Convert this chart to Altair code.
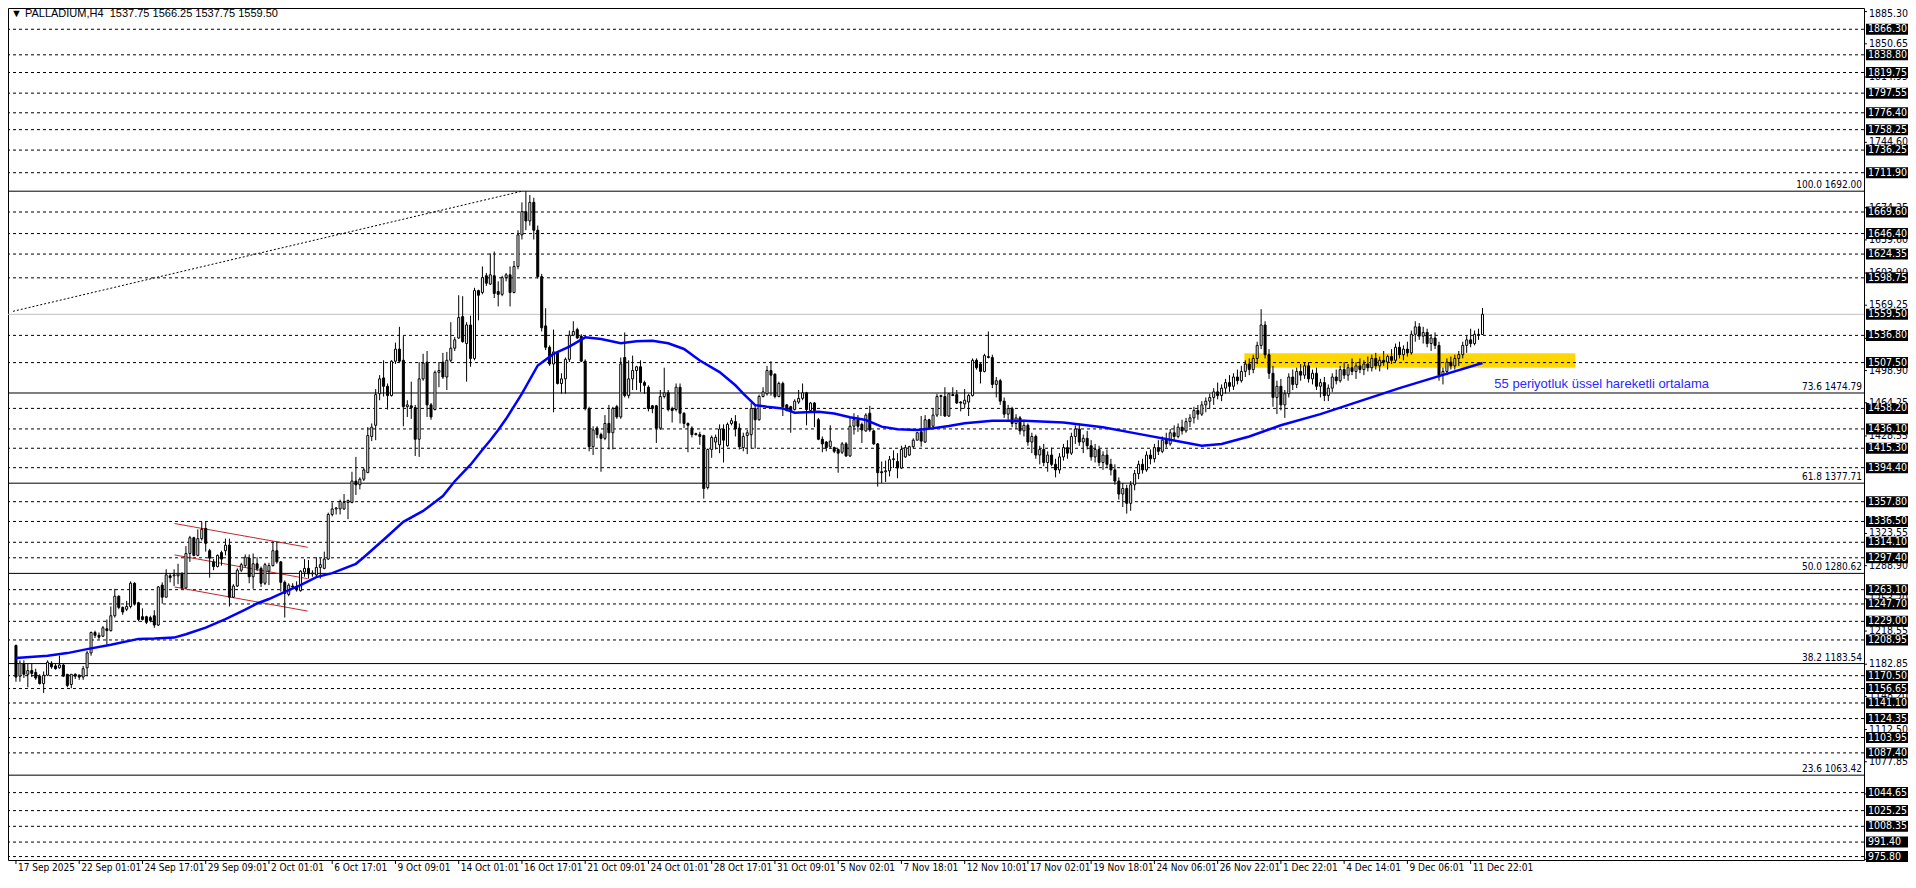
import altair as alt
import pandas as pd

# ---------------- data ----------------
OPEN = [
    1203,1170,1183,1172,1176,1174,1170,1162,1171,1184,
    1181,1179,1182,1172,1161,1172,1171,1169,1179,1195,
    1217,1214,1213,1221,1219,1235,1256,1244,1242,1245,
    1270,1249,1234,1234,1233,1235,1225,1268,1255,1278,
    1278,1278,1280,1265,1302,1319,1300,1318,1329,1305,
    1293,1288,1303,1305,1311,1255,1267,1284,1289,1297,
    1277,1291,1286,1270,1283,1289,1305,1293,1271,1258,
    1267,1266,1262,1282,1286,1280,1279,1287,1286,1296,
    1344,1350,1350,1350,1357,1357,1380,1376,1382,1389,
    1428,1440,1474,1491,1482,1472,1509,1522,1510,1460,
    1461,1459,1425,1490,1508,1462,1457,1497,1508,1492,
    1510,1523,1534,1557,1528,1548,1512,1585,1583,1601,
    1592,1601,1584,1581,1599,1602,1583,1611,1645,1670,
    1660,1680,1650,1600,1547,1524,1506,1518,1485,1490,
    1511,1537,1543,1536,1509,1458,1417,1437,1430,1426,
    1442,1432,1460,1449,1513,1472,1490,1499,1503,1486,
    1481,1461,1461,1437,1471,1475,1458,1457,1481,1453,
    1442,1437,1431,1430,1429,1373,1414,1422,1419,1436,
    1418,1442,1444,1437,1416,1429,1430,1458,1446,1471,
    1474,1499,1495,1471,1485,1462,1460,1457,1465,1469,
    1475,1456,1464,1446,1425,1422,1417,1416,1414,1411,
    1420,1407,1439,1446,1441,1434,1453,1434,1420,1390,
    1390,1391,1403,1401,1394,1406,1408,1417,1424,1433,
    1422,1446,1439,1451,1471,1471,1450,1473,1473,1465,
    1463,1465,1472,1510,1506,1498,1514,1513,1484,1488,
    1466,1452,1458,1442,1448,1434,1440,1422,1428,1408,
    1414,1400,1408,1398,1392,1406,1416,1410,1428,1436,
    1422,1426,1418,1406,1414,1400,1408,1398,1392,1380,
    1366,1372,1356,1376,1388,1398,1392,1408,1404,1416,
    1412,1424,1420,1432,1428,1438,1434,1444,1448,1456,
    1452,1462,1466,1470,1476,1472,1480,1486,1482,1492,
    1488,1498,1506,1500,1512,1526,1548,1516,1496,1470,
    1482,1462,1474,1492,1484,1498,1494,1504,1490,1496,
    1482,1486,1472,1480,1492,1488,1500,1494,1502,1498,
    1504,1500,1506,1502,1512,1504,1510,1508,1514,1510,
    1524,1516,1522,1518,1538,1546,1536,1540,1528,1534,
    1526,1494,1498,1508,1504,1512,1516,1526,1532,1528,
    1538,1537.75,
]
HIGH = [
    1204,1187,1187,1184,1184,1178,1172,1175,1187,1186,
    1183,1192,1183,1172,1172,1173,1172,1181,1197,1218,
    1219,1217,1224,1231,1245,1264,1257,1245,1251,1272,
    1271,1250,1243,1235,1235,1241,1267,1271,1285,1281,
    1285,1291,1282,1310,1321,1320,1328,1336,1336,1307,
    1296,1301,1305,1318,1318,1269,1286,1292,1301,1301,
    1302,1298,1288,1292,1292,1315,1315,1294,1273,1270,
    1270,1272,1284,1296,1295,1284,1298,1297,1304,1346,
    1357,1352,1360,1366,1360,1390,1406,1384,1394,1438,
    1442,1479,1494,1510,1485,1510,1529,1546,1536,1467,
    1487,1462,1508,1517,1520,1464,1499,1508,1518,1519,
    1551,1535,1580,1579,1551,1558,1588,1586,1611,1604,
    1625,1627,1595,1601,1604,1611,1617,1650,1680,1692,
    1688,1685,1655,1603,1566,1526,1543,1519,1496,1513,
    1542,1552,1545,1538,1511,1460,1439,1439,1432,1451,
    1462,1460,1462,1513,1540,1510,1515,1504,1510,1488,
    1483,1462,1462,1478,1502,1478,1460,1485,1485,1454,
    1443,1439,1432,1433,1430,1415,1429,1430,1441,1441,
    1443,1448,1451,1442,1432,1435,1464,1462,1473,1481,
    1504,1509,1496,1487,1487,1463,1461,1468,1478,1485,
    1476,1465,1465,1448,1428,1423,1440,1417,1415,1422,
    1422,1449,1453,1451,1443,1453,1461,1435,1421,1401,
    1402,1407,1413,1410,1418,1419,1418,1426,1433,1450,
    1451,1447,1458,1474,1473,1481,1475,1481,1478,1466,
    1479,1474,1512,1512,1507,1517,1541,1516,1492,1490,
    1470,1462,1460,1452,1450,1446,1442,1432,1430,1418,
    1420,1412,1416,1404,1410,1420,1424,1432,1440,1442,
    1430,1434,1424,1420,1418,1412,1414,1404,1398,1384,
    1378,1376,1380,1392,1402,1404,1412,1414,1420,1424,
    1428,1432,1436,1440,1442,1446,1448,1452,1460,1462,
    1466,1470,1474,1480,1486,1484,1490,1494,1496,1500,
    1504,1510,1512,1516,1530,1565,1552,1522,1504,1488,
    1490,1478,1496,1500,1502,1506,1508,1508,1500,1502,
    1490,1492,1484,1496,1500,1504,1508,1506,1512,1508,
    1512,1510,1514,1516,1518,1514,1520,1516,1522,1528,
    1530,1526,1530,1542,1552,1550,1546,1544,1538,1540,
    1530,1502,1512,1514,1516,1520,1530,1536,1544,1542,
    1544,1566.25,
]
LOW = [
    1164,1164,1168,1158,1169,1166,1161,1152,1170,1178,
    1177,1178,1169,1158,1157,1167,1166,1166,1170,1192,
    1211,1210,1212,1204,1218,1233,1242,1236,1240,1243,
    1246,1229,1230,1226,1228,1222,1224,1248,1255,1271,
    1267,1269,1264,1264,1293,1299,1299,1316,1304,1276,
    1284,1287,1289,1300,1245,1254,1266,1282,1287,1270,
    1264,1283,1266,1268,1268,1288,1291,1261,1233,1256,
    1264,1261,1261,1277,1275,1277,1277,1275,1285,1295,
    1342,1344,1344,1349,1339,1356,1365,1371,1380,1389,
    1423,1424,1467,1471,1457,1471,1506,1508,1439,1449,
    1447,1407,1406,1488,1449,1446,1456,1481,1490,1478,
    1508,1520,1533,1529,1487,1503,1510,1553,1581,1590,
    1591,1577,1568,1579,1595,1568,1582,1608,1640,1650,
    1655,1640,1598,1541,1521,1504,1454,1484,1474,1474,
    1508,1536,1533,1508,1456,1412,1408,1426,1390,1424,
    1414,1414,1447,1447,1470,1469,1478,1478,1476,1474,
    1455,1453,1421,1435,1469,1455,1443,1455,1442,1437,
    1411,1427,1429,1419,1361,1371,1405,1414,1410,1400,
    1417,1440,1428,1414,1412,1409,1415,1415,1445,1470,
    1472,1472,1469,1470,1450,1455,1432,1456,1463,1467,
    1440,1455,1438,1424,1411,1412,1415,1410,1389,1409,
    1406,1406,1430,1433,1421,1433,1433,1419,1374,1378,
    1379,1385,1394,1383,1393,1405,1407,1415,1424,1417,
    1421,1435,1438,1449,1450,1449,1449,1472,1463,1455,
    1458,1450,1471,1500,1485,1497,1512,1480,1470,1462,
    1448,1446,1438,1436,1430,1428,1418,1410,1404,1398,
    1396,1390,1396,1384,1388,1402,1404,1408,1420,1418,
    1410,1414,1402,1400,1396,1392,1394,1386,1376,1360,
    1352,1345,1348,1370,1382,1388,1390,1398,1400,1408,
    1410,1416,1418,1424,1426,1430,1432,1438,1442,1446,
    1450,1454,1458,1462,1468,1466,1474,1476,1478,1484,
    1486,1492,1494,1496,1506,1522,1512,1490,1460,1452,
    1456,1448,1470,1478,1480,1488,1490,1486,1484,1478,
    1470,1466,1466,1476,1484,1486,1490,1488,1494,1490,
    1496,1494,1498,1498,1500,1498,1504,1500,1506,1508,
    1512,1510,1514,1516,1530,1532,1528,1524,1520,1522,
    1488,1484,1494,1500,1500,1504,1512,1518,1524,1526,
    1532,1537.75,
]
CLOSE = [
    1169,1184,1172,1176,1173,1168,1162,1171,1185,1180,
    1178,1182,1170,1160,1172,1170,1169,1178,1195,1217,
    1214,1212,1222,1219,1235,1256,1244,1239,1245,1270,
    1248,1231,1231,1228,1230,1225,1266,1255,1279,1276,
    1279,1280,1265,1302,1319,1300,1318,1328,1313,1297,
    1288,1300,1296,1311,1255,1267,1284,1290,1298,1277,
    1291,1286,1270,1290,1289,1305,1293,1271,1259,1268,
    1266,1263,1283,1286,1280,1281,1287,1290,1296,1344,
    1350,1351,1358,1357,1359,1380,1376,1382,1392,1429,
    1438,1473,1490,1482,1472,1509,1522,1509,1460,1462,
    1459,1425,1490,1507,1462,1449,1497,1499,1492,1510,
    1523,1532,1556,1530,1548,1512,1585,1580,1599,1593,
    1602,1582,1581,1599,1602,1583,1611,1645,1670,1660,
    1680,1650,1600,1545,1524,1506,1519,1485,1490,1511,
    1537,1541,1534,1509,1458,1417,1435,1430,1426,1442,
    1432,1458,1449,1506,1472,1490,1499,1503,1486,1483,
    1458,1458,1437,1471,1475,1457,1456,1481,1453,1442,
    1440,1430,1430,1428,1372,1414,1427,1427,1436,1424,
    1441,1445,1436,1417,1428,1432,1458,1446,1471,1476,
    1499,1494,1471,1485,1460,1456,1455,1466,1469,1475,
    1457,1464,1456,1425,1420,1416,1423,1412,1410,1420,
    1407,1439,1446,1439,1435,1451,1435,1420,1389,1389,
    1391,1403,1404,1394,1414,1416,1417,1424,1432,1423,
    1446,1437,1451,1471,1472,1450,1474,1472,1464,1464,
    1467,1472,1510,1502,1498,1515,1513,1484,1488,1466,
    1452,1458,1442,1448,1434,1440,1422,1428,1408,1414,
    1400,1408,1398,1392,1406,1416,1410,1428,1436,1422,
    1426,1418,1406,1414,1400,1408,1398,1392,1380,1366,
    1372,1356,1376,1388,1398,1392,1408,1404,1416,1412,
    1424,1420,1432,1428,1438,1434,1444,1448,1456,1452,
    1462,1466,1470,1476,1472,1480,1486,1482,1492,1488,
    1498,1506,1500,1512,1526,1548,1516,1496,1470,1482,
    1462,1474,1492,1484,1498,1494,1504,1490,1496,1482,
    1486,1472,1480,1492,1488,1500,1494,1502,1498,1504,
    1500,1506,1502,1512,1504,1510,1508,1514,1510,1524,
    1516,1522,1518,1538,1546,1536,1540,1528,1534,1526,
    1494,1498,1508,1504,1512,1516,1526,1532,1528,1538,
    1537.75,1559.50,
]

# 55-period EMA, read at sample bars
EMA_BAR = [0, 8, 13, 18, 24, 31, 35, 40, 43, 48, 53, 58, 61, 64, 68, 72, 76, 80, 86, 88,
           93, 98, 103, 108, 111, 115, 118, 120, 122, 124, 128, 132, 136, 140, 144, 148,
           153, 157, 161, 165, 169, 173, 178, 182, 184, 187, 190, 194, 197, 203, 207, 211,
           215, 219, 223, 228, 232, 236, 240, 247, 255, 265, 275, 285, 295, 300, 305, 312,
           320, 330, 340, 350, 360, 371]
EMA_VAL = [1189.5, 1192.0, 1194.8, 1199.1, 1203.7, 1210.1, 1210.5, 1211.5, 1215.1, 1222.2,
           1231.4, 1241.5, 1248.2, 1253.0, 1260.6, 1268.0, 1276.6, 1280.9, 1290.9, 1298.0,
           1316.8, 1336.1, 1347.8, 1363.8, 1379.8, 1397.6, 1413.6, 1424.0, 1435.0, 1447.0,
           1474.2, 1504.4, 1516.9, 1524.7, 1534.7, 1532.9, 1528.3, 1530.4, 1531.1, 1528.3,
           1522.2, 1509.8, 1497.3, 1483.1, 1474.2, 1461.7, 1460.0, 1458.2, 1453.6, 1454.6,
           1452.8, 1448.6, 1445.7, 1438.6, 1435.8, 1435.0, 1436.8, 1439.3, 1442.2, 1445.0,
           1445.0, 1443.0, 1438.0, 1430.0, 1422.0, 1418.0, 1420.0, 1428.0, 1440.0, 1452.0,
           1466.0, 1480.0, 1493.0, 1507.0]

HLINE_PRICES = [1866.30, 1838.80, 1819.75, 1797.55, 1776.40, 1758.25, 1736.25, 1711.90,
                1669.60, 1646.40, 1624.35, 1598.75, 1536.80, 1507.50, 1458.20, 1436.10,
                1415.30, 1394.40, 1357.80, 1336.50, 1314.10, 1297.40, 1263.10, 1247.70,
                1229.00, 1208.95, 1170.50, 1156.65, 1141.10, 1124.35, 1103.95, 1087.40,
                1044.65, 1025.25, 1008.35, 991.40, 975.80]
BID_PRICE = 1559.50
FIB_LEVELS = ["100.0", "73.6", "61.8", "50.0", "38.2", "23.6"]
FIB_PRICES = [1692.00, 1474.79, 1377.71, 1280.62, 1183.54, 1063.42]
TOP_TICK = 1885.30
AXIS_TICKS = [1850.65, 1814.95, 1744.60, 1674.25, 1639.60,
              1603.90, 1569.25, 1533.55, 1498.90, 1464.25, 1428.55,
              1323.55, 1288.90, 1253.20, 1218.55, 1182.85, 1148.20, 1112.50, 1077.85,
              1043.20, 972.85]
TIME_LABELS = ["17 Sep 2025", "22 Sep 01:01", "24 Sep 17:01", "29 Sep 09:01", "2 Oct 01:01",
               "6 Oct 17:01", "9 Oct 09:01", "14 Oct 01:01", "16 Oct 17:01", "21 Oct 09:01",
               "24 Oct 01:01", "28 Oct 17:01", "31 Oct 09:01", "5 Nov 02:01", "7 Nov 18:01",
               "12 Nov 10:01", "17 Nov 02:01", "19 Nov 18:01", "24 Nov 06:01", "26 Nov 22:01",
               "1 Dec 22:01", "4 Dec 14:01", "9 Dec 06:01", "11 Dec 22:01"]
TIME_BARS = [0, 16, 32, 48, 64, 80, 96, 112, 128, 144, 160, 176, 192, 208, 224, 240,
             256, 272, 288, 304, 320, 336, 352, 368]

# red flag channel (bar, price) pairs
CH_X1 = [40.1, 40.1, 40.1]
CH_Y1 = [1334.3, 1300.5, 1266.0]
CH_X2 = [73.8, 73.8, 73.8]
CH_Y2 = [1308.7, 1274.9, 1240.0]
# dotted fibo diagonal
DIAG = {"x1": [-0.75], "y1": [1562.7], "x2": [128.0], "y2": [1692.0]}
# yellow zone
ZONE = {"x1": [310.75], "x2": [394.5], "y1": [1502.0], "y2": [1517.5]}
TITLE = "\u25bc PALLADIUM,H4\u00a0\u00a01537.75 1566.25 1537.75 1559.50"
EMA_NOTE = "55 periyotluk üssel hareketli ortalama"

# ---------------- chart ----------------
W, H = 1856, 852
FONT = "Liberation Sans"
NARROW = "Liberation Sans Narrow, DejaVu Sans Condensed, Liberation Sans"
xs = alt.Scale(domain=[-0.75, 466.25], nice=False, zero=False)
ys = alt.Scale(domain=[972.1, 1889.2], nice=False, zero=False)


def X(f):
    return alt.X(f, type="quantitative", scale=xs, axis=None)


def Y(f):
    return alt.Y(f, type="quantitative", scale=ys, axis=None)


candles = pd.DataFrame({"i": list(range(len(CLOSE))), "o": OPEN, "h": HIGH, "l": LOW, "c": CLOSE})

hl = alt.Chart(pd.DataFrame({"p": HLINE_PRICES})).mark_rule(
    color="black", strokeDash=[3, 3], strokeWidth=1).encode(y=Y("p"))
fib_df = pd.DataFrame({"p": FIB_PRICES,
                       "t": [f"{a} {b:.2f}" for a, b in zip(FIB_LEVELS, FIB_PRICES)]})
fib = alt.Chart(fib_df).mark_rule(color="black", strokeWidth=1).encode(y=Y("p"))
fib_txt = alt.Chart(fib_df).mark_text(
    align="right", baseline="bottom", dy=-1, font=NARROW, fontSize=10, color="#000020"
).encode(x=alt.value(W - 2), y=Y("p"), text="t:N")
bid = alt.Chart(pd.DataFrame({"p": [BID_PRICE]})).mark_rule(
    color="#c0c0c0", strokeWidth=1).encode(y=Y("p"))

zone = alt.Chart(pd.DataFrame(ZONE)).mark_rect(color="#FFD700").encode(
    x=X("x1"), x2="x2:Q", y=Y("y1"), y2="y2:Q")
diag = alt.Chart(pd.DataFrame(DIAG)).mark_rule(
    color="black", strokeDash=[2, 2], strokeWidth=1).encode(
    x=X("x1"), x2="x2:Q", y=Y("y1"), y2="y2:Q")
chan = alt.Chart(pd.DataFrame({"x1": CH_X1, "y1": CH_Y1, "x2": CH_X2, "y2": CH_Y2})).mark_rule(
    color="#c0282d", strokeWidth=1).encode(x=X("x1"), x2="x2:Q", y=Y("y1"), y2="y2:Q")

wick = alt.Chart(candles).mark_rule(color="black", strokeWidth=1, clip=True).encode(
    x=X("i"), y=Y("l"), y2="h:Q")
body = alt.Chart(candles).mark_bar(size=2, stroke="black", strokeWidth=1, clip=True).encode(
    x=X("i"), y=Y("o"), y2="c:Q",
    fill=alt.condition("datum.c >= datum.o", alt.value("white"), alt.value("black")))

ema = alt.Chart(pd.DataFrame({"i": EMA_BAR, "v": EMA_VAL})).mark_line(
    color="#0000ff", strokeWidth=2.5, clip=True).encode(x=X("i"), y=Y("v"))
ema_note = alt.Chart(pd.DataFrame({"x": [374.0], "y": [1484.1], "t": [EMA_NOTE]})).mark_text(
    align="left", baseline="middle", font=FONT, fontSize=13, color="#2a2aff"
).encode(x=X("x"), y=Y("y"), text="t:N")

# right price scale
tick_df = pd.DataFrame({"p": AXIS_TICKS, "t": [f"{v:.2f}" for v in AXIS_TICKS]})
rtick = alt.Chart(pd.DataFrame({"p": AXIS_TICKS + [TOP_TICK]})).mark_rule(color="black").encode(
    x=alt.value(W), x2=alt.value(W + 3), y=Y("p"))
rtxt = alt.Chart(tick_df).mark_text(
    align="left", baseline="middle", font=NARROW, fontSize=10.5, color="#000020"
).encode(x=alt.value(W + 5), y=Y("p"), text="t:N")
rtop = alt.Chart(pd.DataFrame({"t": [f"{TOP_TICK:.2f}"]})).mark_text(
    align="left", baseline="top", font=NARROW, fontSize=10.5, color="#000020"
).encode(x=alt.value(W + 5), y=alt.value(1), text="t:N")
box_vals = HLINE_PRICES + [BID_PRICE]
box_df = pd.DataFrame({"p": box_vals, "t": [f"{v:.2f}" for v in box_vals]})
rbox = alt.Chart(box_df).mark_tick(orient="horizontal", size=42, thickness=11, color="black",
                                   opacity=1).encode(x=alt.value(W + 23), y=Y("p"))
rboxt = alt.Chart(box_df).mark_text(
    align="left", baseline="middle", font=NARROW, fontSize=10.5, color="white"
).encode(x=alt.value(W + 4), y=Y("p"), text="t:N")

# time scale
tdf = pd.DataFrame({"i": TIME_BARS, "t": TIME_LABELS})
btick = alt.Chart(tdf).mark_rule(color="black").encode(
    x=X("i"), y=alt.value(H), y2=alt.value(H + 4))
btxt = alt.Chart(tdf).mark_text(
    align="left", baseline="middle", dx=2, font=NARROW, fontSize=10, color="black"
).encode(x=X("i"), y=alt.value(H + 8), text="t:N")

title = alt.Chart(pd.DataFrame({"t": [TITLE]})).mark_text(
    align="left", baseline="middle", font=FONT, fontSize=11, color="black"
).encode(x=alt.value(3), y=alt.value(6), text="t:N")

chart = alt.layer(
    zone, hl, fib, bid, diag, chan, wick, body, ema, ema_note, fib_txt,
    rtick, rtxt, rtop, rbox, rboxt, btick, btxt, title
).properties(
    width=W, height=H,
    autosize=alt.AutoSizeParams(type="none"),
    padding={"left": 0, "top": 0, "right": 44, "bottom": 14},
    background="white",
).configure_view(stroke="black", strokeWidth=1)

chart.save("out.html", embed_options={"renderer": "svg", "actions": False})
